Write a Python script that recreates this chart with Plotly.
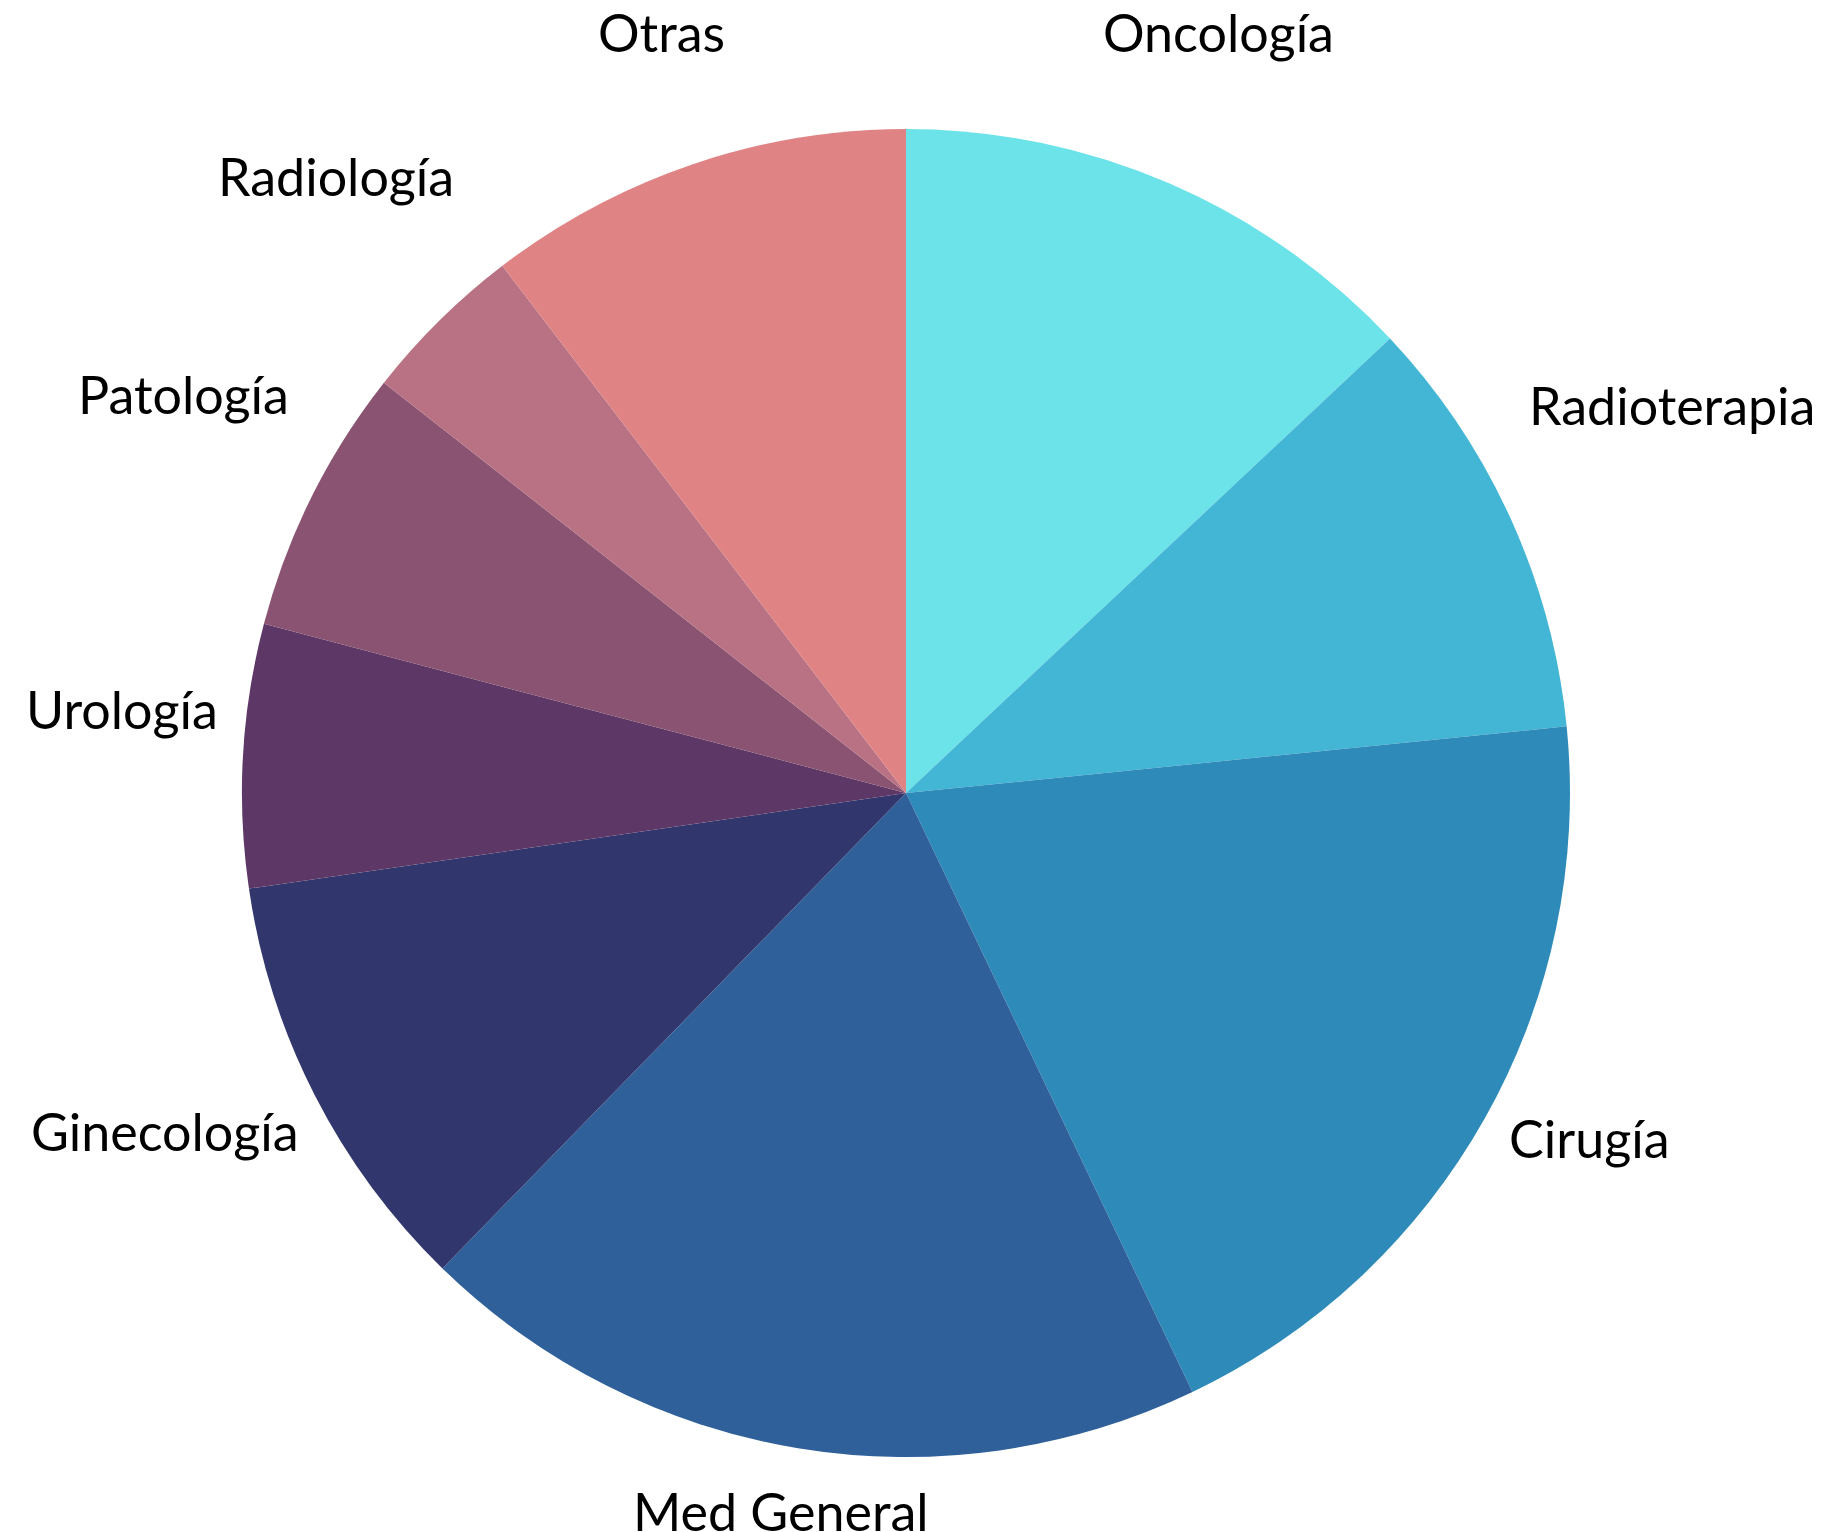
import glob
import math
import struct

import plotly.graph_objects as go

labels = ["Oncología", "Radioterapia", "Cirugía", "Med General", "Ginecología",
          "Urología", "Patología", "Radiología", "Otras"]
values = [13.0, 10.4, 19.5, 19.4, 10.4, 6.4, 6.5, 4.0, 10.4]
colors = ["#6be3e8", "#43b6d6", "#2e8bb9", "#2f6099", "#31366d",
          "#5d3766", "#8a5371", "#b97283", "#e08385"]

W, H = 1833, 1532
M_L, M_R, M_T, M_B = 0, 37, 121, 83
FONT = "Lato"
FSIZE = 52


# ---- text width measurement (reads Lato metrics from the installed font) ----
def _load_ttf_widths(path):
    with open(path, "rb") as f:
        data = f.read()
    num_tables = struct.unpack(">H", data[4:6])[0]
    tables = {}
    for i in range(num_tables):
        off = 12 + 16 * i
        tag = data[off:off + 4].decode("latin-1")
        _, toff, tlen = struct.unpack(">III", data[off + 4:off + 16])
        tables[tag] = (toff, tlen)
    head = tables["head"][0]
    upem = struct.unpack(">H", data[head + 18:head + 20])[0]
    hhea = tables["hhea"][0]
    n_hm = struct.unpack(">H", data[hhea + 34:hhea + 36])[0]
    hmtx = tables["hmtx"][0]
    advances = [struct.unpack(">H", data[hmtx + 4 * i:hmtx + 4 * i + 2])[0] for i in range(n_hm)]
    cmap = tables["cmap"][0]
    n_sub = struct.unpack(">H", data[cmap + 2:cmap + 4])[0]
    sub_off = None
    for i in range(n_sub):
        pid, eid, so = struct.unpack(">HHI", data[cmap + 4 + 8 * i:cmap + 12 + 8 * i])
        fmt = struct.unpack(">H", data[cmap + so:cmap + so + 2])[0]
        if fmt == 4 and pid in (0, 3):
            sub_off = cmap + so
            break
    seg2 = struct.unpack(">H", data[sub_off + 6:sub_off + 8])[0]
    segs = seg2 // 2
    ends_o = sub_off + 14
    starts_o = ends_o + seg2 + 2
    delta_o = starts_o + seg2
    range_o = delta_o + seg2

    def glyph(ch):
        c = ord(ch)
        for s in range(segs):
            end = struct.unpack(">H", data[ends_o + 2 * s:ends_o + 2 * s + 2])[0]
            if c <= end:
                start = struct.unpack(">H", data[starts_o + 2 * s:starts_o + 2 * s + 2])[0]
                if c < start:
                    return 0
                delta = struct.unpack(">h", data[delta_o + 2 * s:delta_o + 2 * s + 2])[0]
                ro = struct.unpack(">H", data[range_o + 2 * s:range_o + 2 * s + 2])[0]
                if ro == 0:
                    return (c + delta) & 0xFFFF
                addr = range_o + 2 * s + ro + 2 * (c - start)
                g = struct.unpack(">H", data[addr:addr + 2])[0]
                return (g + delta) & 0xFFFF if g else 0
        return 0

    def width(text, size):
        total = 0
        for ch in text:
            g = glyph(ch)
            total += advances[min(g, n_hm - 1)]
        return total * size / upem

    return width


_measure = None
for p in sorted(glob.glob("/usr/share/fonts/**/Lato-Regular.ttf", recursive=True)
                + glob.glob("/usr/share/fonts/**/Lato-Medium.ttf", recursive=True)):
    try:
        _measure = _load_ttf_widths(p)
        break
    except Exception:
        _measure = None


def text_width(text, size):
    if _measure is not None:
        try:
            return _measure(text, size)
        except Exception:
            pass
    return 0.467 * size * len(text)


# ---- figure ----
fig = go.Figure(go.Pie(
    labels=labels,
    values=values,
    sort=False,
    direction="clockwise",
    rotation=0,
    marker=dict(colors=colors),
    textinfo="none",
    automargin=False,
    showlegend=False,
    hoverinfo="label+percent",
))

plot_w = W - M_L - M_R
plot_h = H - M_T - M_B
radius = min(plot_w, plot_h) / 2
clear_r = radius + 21          # labels are pushed out until they clear this radius
line_h = 65.5                  # label + (hidden) second line
half_block = 59.5
raise_px = 7

total = sum(values)
annotations = []
cum = 0.0
for lab, v in zip(labels, values):
    mid = (cum + v / 2) / total * 2 * math.pi
    cum += v
    s, c = math.sin(mid), math.cos(mid)
    hw = text_width(lab, FSIZE) / 2
    d = clear_r + hw * abs(s) + half_block * abs(c)
    bx, by = d * s, -d * c          # block centre, screen px (y down)
    lx, ly = bx, by - line_h / 2 - raise_px
    annotations.append(dict(
        x=0.5 + lx / plot_w, y=0.5 - ly / plot_h,
        xref="paper", yref="paper",
        text=lab, showarrow=False,
        xanchor="center", yanchor="middle",
        font=dict(family=FONT, size=FSIZE, color="black"),
    ))

fig.update_layout(
    width=W, height=H,
    margin=dict(l=M_L, r=M_R, t=M_T, b=M_B, autoexpand=False),
    paper_bgcolor="white",
    font=dict(family=FONT),
    annotations=annotations,
)

fig.write_html("out.html")
